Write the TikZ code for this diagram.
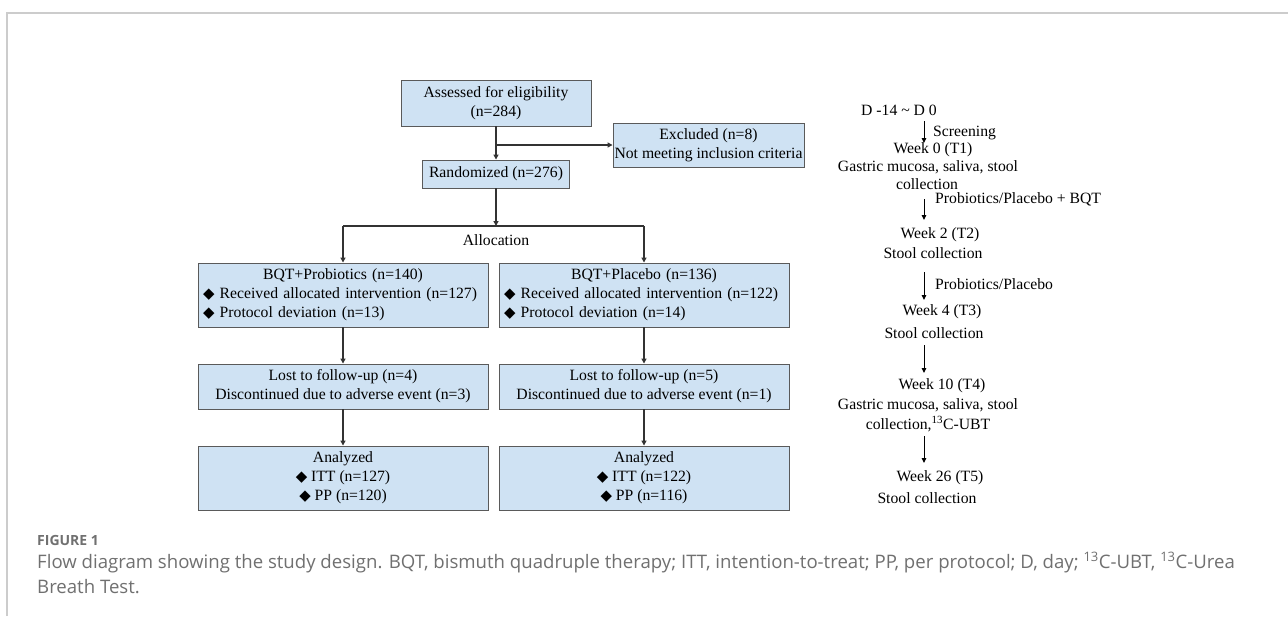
\documentclass[tikz,border=0pt]{standalone}
\usepackage{fontspec}
\usepackage{graphicx}
\setmainfont{Liberation Serif}
\newfontfamily\capfont{Open Sans}
\newfontfamily\dejavu{DejaVu Sans}
\usetikzlibrary{arrows.meta}
\definecolor{boxfill}{HTML}{CFE2F3}
\definecolor{boxline}{HTML}{5A5A5A}
\definecolor{connc}{HTML}{333333}
\definecolor{framegray}{HTML}{CCCCCC}
\definecolor{capgray}{HTML}{707070}
\newcommand\dia{{\dejavu\scalebox{0.95}{\char"25C6}}}
\newcommand\mainsz{\fontsize{15.7}{19}\selectfont}
\newcommand\capsz{\fontsize{18.6}{24}\selectfont}
\newcommand\figsz{\fontsize{14}{17}\selectfont}
\tikzset{
  box/.style={draw=boxline, fill=boxfill, line width=0.9pt, inner sep=0pt, align=center, font=\mainsz},
  conn/.style={draw=connc, line width=1.3pt},
  arr/.style={conn, -{Triangle[length=5pt,width=5pt]}},
  tarr/.style={draw=black, line width=1pt, -{Triangle[length=5pt,width=4.5pt]}},
  txt/.style={inner sep=0pt, font=\mainsz},
  captxt/.style={inner sep=0pt, anchor=base west, text=capgray, font=\capfont\capsz},
}
\begin{document}
\begin{tikzpicture}[x=1pt,y=-1pt]
\useasboundingbox (0,0) rectangle (1288,616);
\fill[white] (0,0) rectangle (1288,616);
% frame
\draw[framegray, line width=1.5pt] (7,616) -- (7,13) -- (1288,13);

% flow boxes
\node[box, minimum width=190pt, minimum height=46pt] (assess) at (496,103) {Assessed for eligibility\\(n=284)};
\node[box, minimum width=191pt, minimum height=44pt] (excl) at (708.5,145) {Excluded (n=8)\\Not meeting inclusion criteria};
\node[box, minimum width=147pt, minimum height=28pt] (rand) at (496,174) {Randomized (n=276)};
\node[txt] (alloc) at (496,240) {Allocation};

\node[box, minimum width=290pt, minimum height=64pt, text width=280pt, align=left] (probio) at (343,295)
  {\makebox[\linewidth]{BQT+Probiotics (n=140)}\\\dia\ Received allocated intervention (n=127)\\\dia\ Protocol deviation (n=13)};
\node[box, minimum width=290pt, minimum height=64pt, text width=280pt, align=left] (placebo) at (644,295)
  {\makebox[\linewidth]{BQT+Placebo (n=136)}\\\dia\ Received allocated intervention (n=122)\\\dia\ Protocol deviation (n=14)};

\node[box, minimum width=290pt, minimum height=45pt] (lost1) at (343,386.5)
  {Lost to follow-up (n=4)\\Discontinued due to adverse event (n=3)};
\node[box, minimum width=290pt, minimum height=45pt] (lost2) at (644,386.5)
  {Lost to follow-up (n=5)\\Discontinued due to adverse event (n=1)};

\node[box, minimum width=290pt, minimum height=64pt] (anal1) at (343,478)
  {Analyzed\\\dia\ ITT (n=127)\\\dia\ PP (n=120)};
\node[box, minimum width=290pt, minimum height=64pt] (anal2) at (644,478)
  {Analyzed\\\dia\ ITT (n=122)\\\dia\ PP (n=116)};

% connectors
\draw[arr] (assess.south) -- (rand.north);
\coordinate (br) at (496,145);
\draw[arr] (br) -- (excl.west);
\coordinate (split) at (496,226);
\draw[arr] (rand.south) -- (split);
\draw[conn] (split -| probio.north) -- (split -| placebo.north);
\draw[arr] (split -| probio.north) -- (probio.north);
\draw[arr] (split -| placebo.north) -- (placebo.north);
\draw[arr] (probio.south) -- (lost1.north);
\draw[arr] (placebo.south) -- (lost2.north);
\draw[arr] (lost1.south) -- (anal1.north);
\draw[arr] (lost2.south) -- (anal2.north);

% timeline
\node[txt] (d0) at (899,110) {D -14 \textasciitilde{} D 0};
\node[txt] (w0) at (933,150) {Week 0 (T1)};
\node[txt] (w0a) at (928,167) {Gastric mucosa, saliva, stool};
\node[txt] (w0b) at (927,184) {collection};
\node[txt] (w2) at (940,235) {Week 2 (T2)};
\node[txt] (w2a) at (933,253) {Stool collection};
\node[txt] (w4) at (942,312) {Week 4 (T3)};
\node[txt] (w4a) at (934,333) {Stool collection};
\node[txt] (w10) at (942,386) {Week 10 (T4)};
\node[txt] (w10a) at (928,405) {Gastric mucosa, saliva, stool};
\node[txt] (w10b) at (928,424) {collection,\textsuperscript{13}C-UBT};
\node[txt] (w26) at (940,478) {Week 26 (T5)};
\node[txt] (w26a) at (927,498) {Stool collection};

\coordinate (a1s) at (924,121); \coordinate (a1e) at (924,143);
\coordinate (a2s) at (924,199); \coordinate (a2e) at (924,220);
\coordinate (a3s) at (924,272); \coordinate (a3e) at (924,300);
\coordinate (a4s) at (924,345); \coordinate (a4e) at (924,373);
\coordinate (a5s) at (924,436); \coordinate (a5e) at (924,463);
\draw[tarr] (a1s) -- (a1e);
\draw[tarr] (a2s) -- (a2e);
\draw[tarr] (a3s) -- (a3e);
\draw[tarr] (a4s) -- (a4e);
\draw[tarr] (a5s) -- (a5e);
\node[txt, anchor=west] (l1) at (933,133) {Screening};
\node[txt, anchor=west] (l2) at (935,199) {Probiotics/Placebo + BQT};
\node[txt, anchor=west] (l3) at (935,284) {Probiotics/Placebo};

% caption
\node[captxt, font=\capfont\bfseries\figsz] (figlab) at (37,545) {FIGURE 1};
\node[captxt] (cap1) at (37,568) {Flow diagram showing the study design. BQT, bismuth quadruple therapy; ITT, intention-to-treat; PP, per protocol; D, day; \textsuperscript{13}C-UBT, \textsuperscript{13}C-Urea};
\node[captxt] (cap2) at (37,593) {Breath Test.};
\end{tikzpicture}
\end{document}
